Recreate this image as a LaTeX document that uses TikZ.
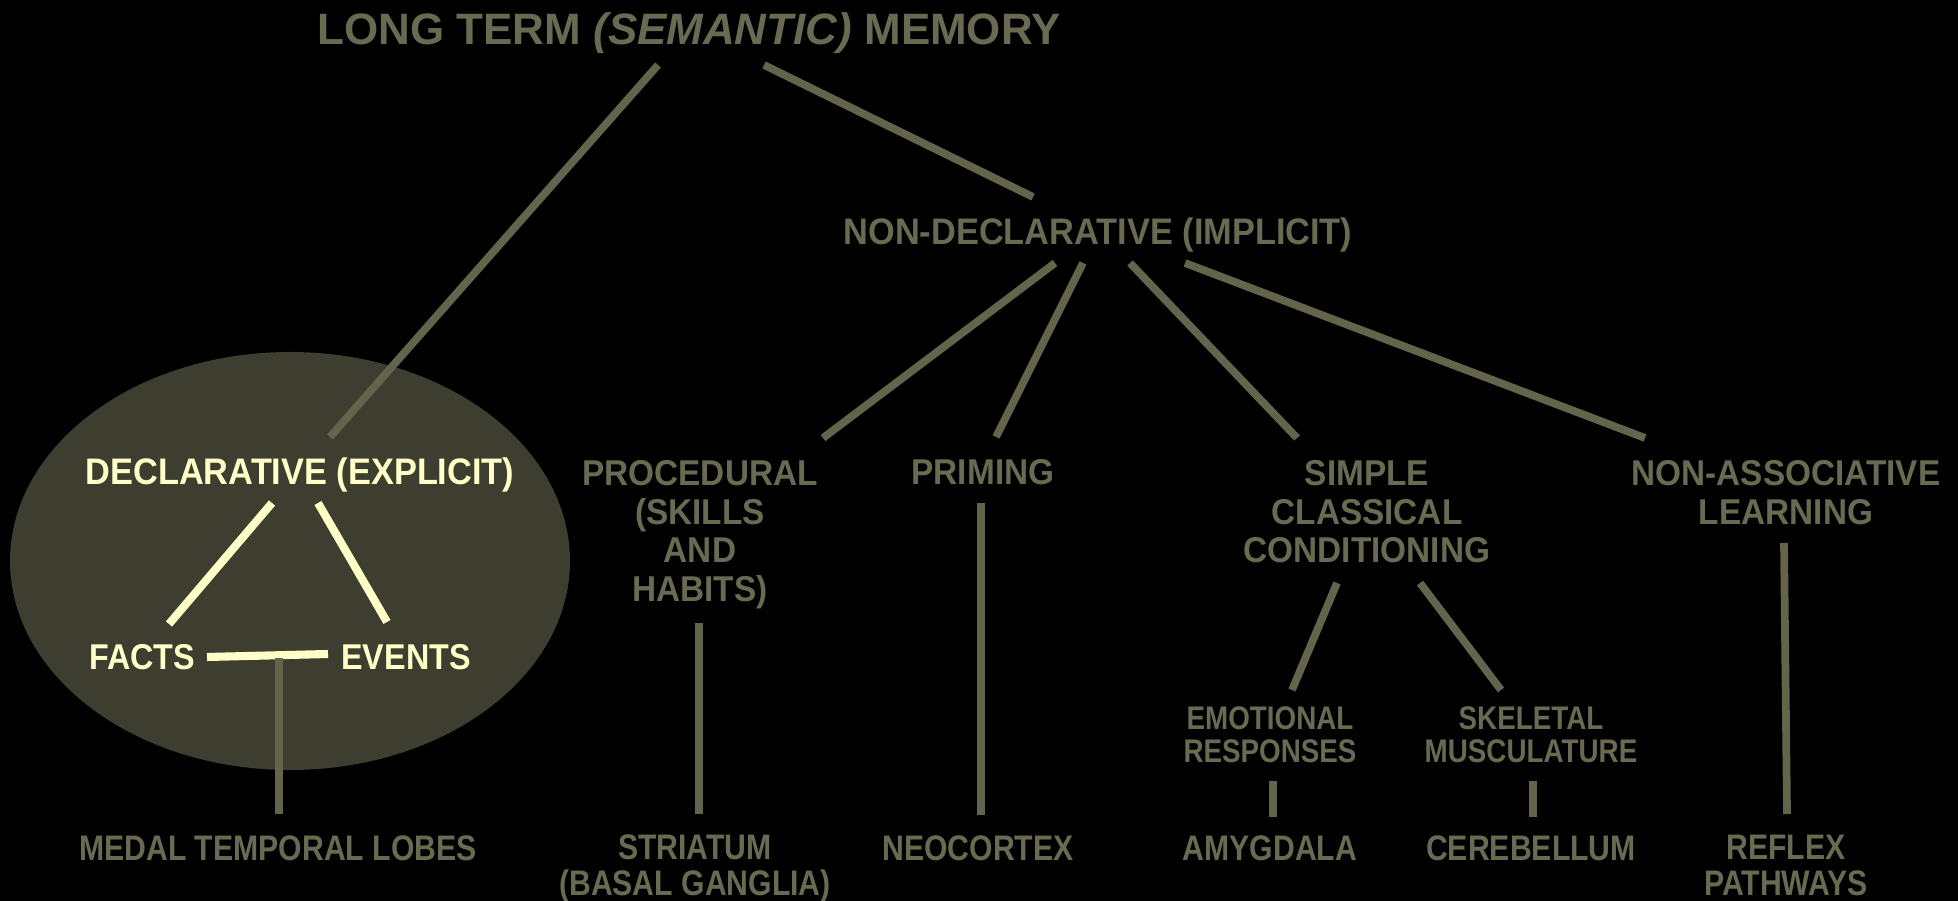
\documentclass[tikz,border=0pt]{standalone}
\usepackage{fontspec}
\setmainfont{Liberation Sans}
\newfontfamily\condf[FakeStretch=0.9]{Liberation Sans}
\newfontfamily\condg[FakeStretch=0.93]{Liberation Sans}
\newfontfamily\condh[FakeStretch=0.85]{Liberation Sans}
\usetikzlibrary{calc}
\definecolor{olive}{RGB}{106,106,82}
\definecolor{oliveline}{RGB}{100,100,76}
\definecolor{ellfill}{RGB}{61,61,48}
\definecolor{pale}{RGB}{255,255,200}
\tikzset{
  lbl/.style={inner sep=0pt, text=olive, font=\condg\bfseries\fontsize{10.5}{10.95}\selectfont, align=center},
  mlbl/.style={lbl, font=\condg\bfseries\fontsize{10.2}{10.95}\selectfont},
  lblpale/.style={lbl, text=pale},
  smallpale/.style={inner sep=0pt, text=pale, font=\condf\bfseries\fontsize{10.2}{11}\selectfont},
  toplbl/.style={inner sep=0pt, text=olive, font=\bfseries\fontsize{12.5}{14}\selectfont},
  botlbl/.style={inner sep=0pt, text=olive, font=\condh\bfseries\fontsize{10.1}{10.2}\selectfont, align=center},
  sublbl/.style={inner sep=0pt, text=olive, font=\condh\bfseries\fontsize{9.3}{9.4}\selectfont, align=center},
  conn/.style={draw=oliveline, line width=2.2pt},
  paleconn/.style={draw=pale, line width=2.3pt},
}
\begin{document}
\begin{tikzpicture}[x=0.01cm,y=-0.01cm]
\fill[black] (0,0) rectangle (1958,901);
\useasboundingbox (0,0) rectangle (1958,901);
\fill[ellfill] (290,561) ellipse [x radius=280, y radius=209];

% nodes
\node[toplbl, anchor=base] (title) at (689,45) {LONG TERM \textit{(SEMANTIC)} MEMORY};
\node[lbl, anchor=base] (nondecl) at (1098,245) {NON-DECLARATIVE (IMPLICIT)};
\node[lblpale, anchor=base] (decl) at (300,485) {DECLARATIVE (EXPLICIT)};
\node[mlbl, anchor=north] (proc) at (700,460) {PROCEDURAL\\(SKILLS\\AND\\HABITS)};
\node[mlbl, anchor=base] (priming) at (983,485) {PRIMING};
\node[mlbl, anchor=north] (simple) at (1367,460) {SIMPLE\\CLASSICAL\\CONDITIONING};
\node[mlbl, anchor=north] (nonassoc) at (1786,460) {NON-ASSOCIATIVE\\LEARNING};
\node[smallpale, anchor=base] (facts) at (142,670) {FACTS};
\node[smallpale, anchor=base] (events) at (406,670) {EVENTS};
\node[sublbl, anchor=north] (emot) at (1270,706) {EMOTIONAL\\RESPONSES};
\node[sublbl, anchor=north] (skel) at (1531,706) {SKELETAL\\MUSCULATURE};
\node[botlbl, anchor=base] (medal) at (278,860) {MEDAL TEMPORAL LOBES};
\node[botlbl, anchor=north] (striatum) at (695,834) {STRIATUM\\(BASAL GANGLIA)};
\node[botlbl, anchor=base] (neo) at (978,860) {NEOCORTEX};
\node[botlbl, anchor=base] (amyg) at (1270,860) {AMYGDALA};
\node[botlbl, anchor=base] (cereb) at (1531,860) {CEREBELLUM};
\node[botlbl, anchor=north] (reflex) at (1786,834) {REFLEX\\PATHWAYS};

% connectors
\draw[conn] ([shift={(-31,20)}]title.base) -- ([shift={(30,-48)}]decl.base);
\draw[conn] ([shift={(75,20)}]title.base) -- ([shift={(-65,-48)}]nondecl.base);
\draw[conn] ([shift={(-43,18)}]nondecl.base) -- ([shift={(123,-22)}]proc.north);
\draw[conn] ([shift={(-15,18)}]nondecl.base) -- ([shift={(13,-48)}]priming.base);
\draw[conn] ([shift={(32,18)}]nondecl.base) -- ([shift={(-70,-22)}]simple.north);
\draw[conn] ([shift={(87,18)}]nondecl.base) -- ([shift={(-141,-22)}]nonassoc.north);

\draw[paleconn] ([shift={(-28,18)}]decl.base) -- ([shift={(27,-46)}]facts.base);
\draw[paleconn] ([shift={(18,18)}]decl.base) -- ([shift={(-19,-48)}]events.base);
\draw[paleconn] ([shift={(65,-13)}]facts.base) -- ([shift={(-78,-16)}]events.base);
\coordinate (fe) at ([shift={(137,-12)}]facts.base);
\draw[conn] (fe) -- ([shift={(1,-46)}]medal.base);

\draw[conn] ([shift={(-1,163)}]proc.north) -- ([shift={(4,-20)}]striatum.north);
\draw[conn] ([shift={(-2,18)}]priming.base) -- ([shift={(3,-45)}]neo.base);
\draw[conn] ([shift={(-30,123)}]simple.north) -- ([shift={(22,-16)}]emot.north);
\draw[conn] ([shift={(53,123)}]simple.north) -- ([shift={(-30,-16)}]skel.north);
\draw[conn] ([shift={(3,75)}]emot.north) -- ([shift={(3,-43)}]amyg.base);
\draw[conn] ([shift={(2,75)}]skel.north) -- ([shift={(2,-43)}]cereb.base);
\draw[conn] ([shift={(-2,83)}]nonassoc.north) -- ([shift={(1,-20)}]reflex.north);
\end{tikzpicture}
\end{document}
